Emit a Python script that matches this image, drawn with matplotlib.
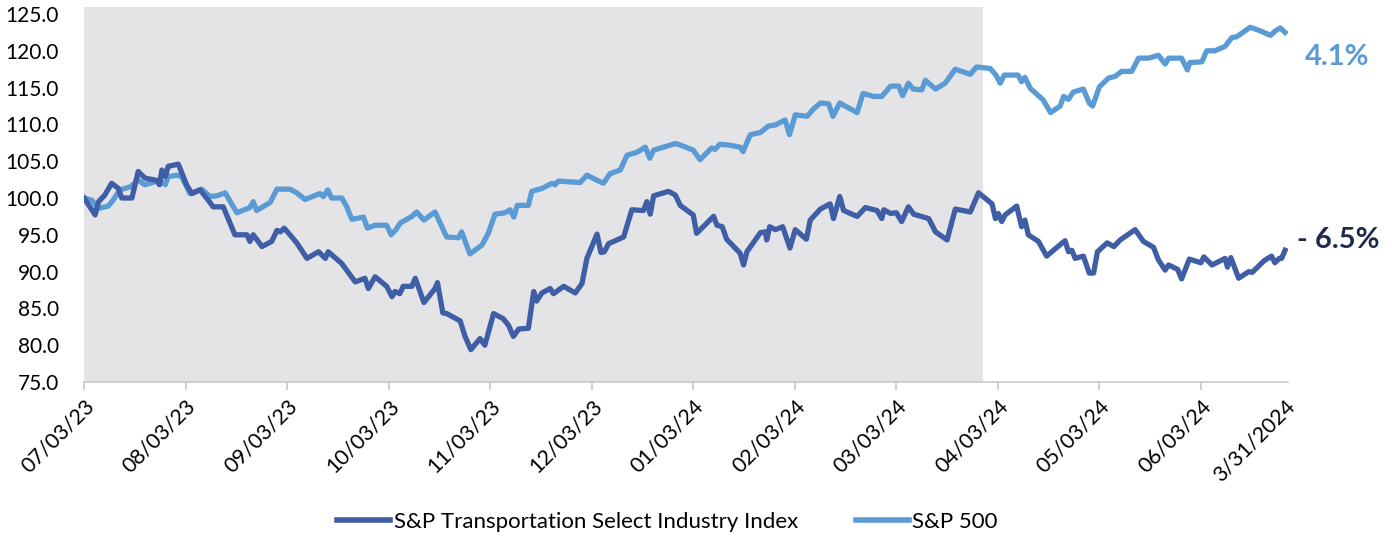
import numpy as np
import matplotlib.pyplot as plt
from matplotlib.lines import Line2D

plt.rcParams['font.family'] = ['Lato', 'DejaVu Sans']

# trading-day index (0 = 07/03/23) and index level
trans_day = [0, 2.3, 3, 4.3, 5.7, 7.1, 7.8, 9.9, 11.2, 12.6, 15, 15.6, 16.1, 16.8, 17.4, 19.5,
             21.2, 22.3, 24, 25.7, 26.7, 28.8, 31.2, 33.7, 34.3, 35, 36.8, 38.8, 39.9, 40.6,
             41.4, 42.6, 44, 46.1, 48.5, 49.9, 50.5, 53.3, 56.1, 58.1, 58.8, 60.2, 62.6, 63.7,
             64.3, 65.3, 66, 67.8, 68.5, 70.3, 72.6, 73.1, 74.2, 75, 77.8, 78.8, 80, 81.9,
             82.9, 84.7, 86.7, 87.8, 88.8, 89.9, 91.9, 93, 93.6, 94.7, 96.4, 97.1, 99.2,
             101.6, 103, 104, 106.1, 106.9, 107.6, 108.5, 111.6, 113.3, 115.7, 116.4, 117.1,
             117.8, 120.9, 122.3, 123.3, 126, 126.7, 130.2, 130.9, 132, 132.9, 135.7, 136.4,
             137.1, 139.9, 140.9, 141.2, 141.8, 143, 144.5, 146, 147.1, 149.4, 150.2, 152.3,
             154.3, 155, 156.3, 157.1, 159.9, 161.6, 164, 165, 165.4, 166.8, 168, 169.1,
             170.5, 171.6, 174.7, 176.1, 178.5, 180.2, 183.3, 185, 187.8, 188.5, 189.1,
             189.8, 190.5, 192.9, 193.9, 194.6, 195.3, 197.4, 199.1, 200.5, 202.9, 203.6,
             204.3, 205, 206.7, 207.9, 208.8, 209.6, 211.6, 213, 214.3, 217.4, 219.1, 221.2,
             222.2, 223.6, 224.3, 226.2, 227, 228.6, 231, 231.6, 233.3, 236, 236.5, 237.2,
             238.8, 240.9, 241.6, 244.1, 245.6, 246.3, 247.2, 247.7, 248.4]
trans_val = [100.0, 97.7, 99.5, 100.4, 102.0, 101.3, 100.0, 100.0, 103.6, 102.7, 102.4, 101.8,
             103.8, 102.9, 104.3, 104.6, 101.8, 100.6, 101.1, 99.7, 98.8, 98.8, 95.0, 95.0,
             94.1, 95.0, 93.4, 94.1, 95.6, 95.4, 95.9, 95.0, 93.9, 91.8, 92.7, 91.8, 92.7,
             91.1, 88.6, 89.1, 87.7, 89.3, 88.0, 86.6, 87.3, 87.0, 88.0, 88.0, 89.1, 85.8,
             87.7, 88.5, 84.4, 84.3, 83.3, 81.2, 79.4, 80.9, 80.0, 84.3, 83.6, 82.7, 81.2,
             82.2, 82.3, 87.3, 86.0, 87.1, 87.7, 87.0, 88.0, 87.1, 88.4, 91.8, 95.1, 92.6,
             92.7, 93.8, 94.7, 98.4, 98.3, 99.5, 97.8, 100.3, 100.9, 100.4, 99.0, 97.7, 95.2,
             97.5, 96.3, 96.1, 94.4, 92.5, 90.9, 92.7, 95.3, 95.4, 94.3, 96.1, 95.7, 96.1,
             93.2, 95.7, 94.4, 97.0, 98.5, 99.2, 97.2, 100.2, 98.3, 97.5, 98.7, 98.3, 97.2,
             98.4, 97.9, 98.0, 96.8, 98.8, 97.8, 97.2, 95.4, 94.3, 98.5, 98.1, 100.7, 99.2,
             97.2, 97.9, 96.8, 97.7, 98.9, 96.1, 97.0, 95.0, 94.1, 92.1, 92.9, 94.2, 92.7,
             92.9, 91.8, 92.1, 89.8, 89.8, 92.7, 93.9, 93.4, 94.3, 95.7, 94.1, 93.3, 91.6,
             90.2, 90.9, 90.3, 89.0, 91.7, 91.2, 92.0, 90.9, 91.8, 90.6, 91.9, 89.1, 90.0,
             89.9, 91.5, 92.1, 91.2, 91.8, 91.8, 92.9]

spx_day = [0, 1.6, 3, 5, 6, 7.4, 9.5, 11.2, 12.6, 15.7, 16.8, 17.4, 19.2, 20.2, 21.9, 24.3,
           26.1, 27.5, 29.2, 31.6, 34.3, 35, 35.7, 38.5, 39.9, 42.6, 44, 45.7, 48.8, 49.5,
           50.4, 51.2, 53.3, 54.2, 55.4, 57.8, 58.6, 60.2, 62.6, 63.5, 64.5, 65.4, 67.8,
           68.8, 70.3, 72.6, 75, 77.4, 78.1, 79.8, 82.3, 83.6, 85, 87.1, 88.1, 88.9, 89.6,
           91.9, 92.6, 94.7, 96.8, 97.4, 98.1, 102.6, 104, 107.4, 108.8, 110.9, 112.3,
           114.3, 116.1, 117, 117.8, 122.3, 123.3, 126, 127.4, 129.8, 130.5, 131.5, 133.3,
           135.7, 136.3, 137.8, 139.9, 141.6, 142.9, 145, 145.9, 147.1, 149.5, 150.9, 152.3,
           154, 154.9, 156.3, 159.9, 161.1, 163.3, 165, 166.8, 168.5, 169.3, 170.5, 171.5,
           173.3, 174, 176.1, 178.1, 180.2, 183.3, 184.6, 187.4, 188.6, 189.5, 190.3,
           193.2, 193.9, 194.6, 195.7, 198.4, 199.9, 201.9, 202.6, 203.6, 204.6, 206.7,
           207.9, 208.6, 210, 211.9, 213.2, 214.6, 216.7, 218.1, 220.2, 222.2, 223.6,
           224.3, 227, 228.2, 228.7, 231.2, 232.2, 233.9, 236, 237.4, 238.4, 241.2, 243.3,
           245.4, 246.4, 247.4, 248.4]
spx_val = [100.0, 99.7, 98.6, 98.9, 99.7, 101.1, 101.5, 102.4, 101.8, 102.4, 101.8, 102.9,
           103.1, 102.9, 100.6, 101.2, 100.2, 100.3, 100.7, 98.0, 98.7, 99.5, 98.3, 99.4,
           101.2, 101.2, 100.7, 99.8, 100.6, 100.2, 101.1, 100.0, 100.0, 99.0, 97.1, 97.4,
           95.9, 96.3, 96.3, 95.0, 95.7, 96.6, 97.5, 98.1, 97.0, 98.1, 94.7, 94.6, 95.4,
           92.4, 93.6, 95.2, 97.8, 98.0, 98.4, 97.4, 99.0, 99.0, 100.9, 101.3, 102.0,
           101.8, 102.3, 102.1, 103.1, 102.0, 103.3, 103.8, 105.8, 106.2, 106.9, 105.4,
           106.5, 107.4, 107.2, 106.5, 105.2, 106.8, 106.6, 107.3, 107.2, 106.9, 106.3,
           108.6, 108.9, 109.8, 109.9, 110.6, 108.6, 111.3, 111.1, 112.1, 112.9, 112.8,
           111.1, 112.9, 111.6, 114.2, 113.8, 113.8, 115.2, 115.2, 113.9, 115.6, 114.8,
           114.7, 116.0, 114.8, 115.6, 117.5, 116.8, 117.8, 117.6, 116.7, 115.6, 116.7,
           116.7, 115.8, 116.4, 114.9, 113.3, 111.6, 112.5, 113.8, 113.4, 114.4, 114.8,
           112.9, 112.5, 115.1, 116.3, 116.5, 117.2, 117.2, 119.0, 119.0, 119.4, 118.2,
           119.0, 119.0, 117.4, 118.4, 118.5, 120.0, 120.0, 120.6, 121.8, 121.9, 123.2,
           122.7, 122.1, 122.7, 123.1, 122.5]

tick_days = [0, 21, 42, 63, 84, 105, 126, 147, 168, 189, 210, 231, 248.4]
tick_labels = ['07/03/23', '08/03/23', '09/03/23', '10/03/23', '11/03/23', '12/03/23',
               '01/03/24', '02/03/24', '03/03/24', '04/03/24', '05/03/24', '06/03/24',
               '3/31/2024']
shade_end = 185.9

dark = '#3f5ea6'
light = '#5b9bd5'

fig = plt.figure(figsize=(13.96, 5.37), dpi=100)
ax = fig.add_axes([0.0602, 0.2886, 0.8624, 0.6984])

ax.axvspan(0, shade_end, color='#e4e4e7', zorder=0, lw=0)
ax.plot(trans_day, trans_val, color=dark, lw=3.8, solid_joinstyle='round', zorder=3)
ax.plot(spx_day, spx_val, color=light, lw=3.8, solid_joinstyle='round', zorder=2)

ax.set_xlim(0, 249)
ax.set_ylim(75, 125.95)
ax.set_yticks(np.arange(75, 126, 5))
ax.set_yticklabels([f'{v:.1f}' for v in np.arange(75, 126, 5)], fontsize=15)
ax.tick_params(axis='y', length=0, pad=18)

ax.set_xticks(tick_days)
ax.set_xticklabels(tick_labels, rotation=45, ha='right', rotation_mode='anchor', fontsize=15.5)
ax.tick_params(axis='x', length=6, color='#c8c8c8', width=1.2, pad=4)
ax.xaxis.get_major_ticks()[-1].tick1line.set_visible(False)

for s in ['top', 'right', 'left']:
    ax.spines[s].set_visible(False)
ax.spines['bottom'].set_color('#c8c8c8')
ax.spines['bottom'].set_linewidth(1.2)

fig.text(0.935, 0.893, '4.1%', color=light, fontsize=21, fontweight='bold', va='center')
fig.text(0.929, 0.553, '- 6.5%', color='#1f2a4f', fontsize=21, fontweight='bold', va='center')

handles = [Line2D([], [], color=dark, lw=4), Line2D([], [], color=light, lw=4)]
fig.legend(handles, ['S&P Transportation Select Industry Index', 'S&P 500'],
           loc='center', bbox_to_anchor=(0.478, 0.028), ncol=2, frameon=False,
           fontsize=16, handlelength=2.4, handletextpad=0.15, columnspacing=2.6)

fig.savefig('out.png', dpi=100)
